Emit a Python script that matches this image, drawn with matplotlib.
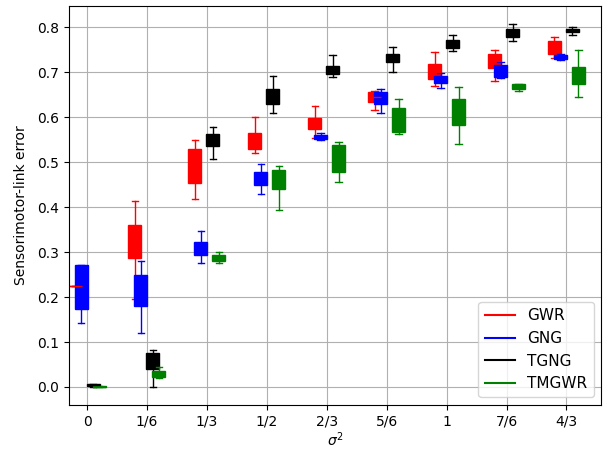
import numpy as np
import matplotlib
matplotlib.use('Agg')
import matplotlib.pyplot as plt
from matplotlib.lines import Line2D

labels = ['0', '1/6', '1/3', '1/2', '2/3', '5/6', '1', '7/6', '4/3']
names = ['GWR', 'GNG', 'TGNG', 'TMGWR']
colors = ['red', 'blue', 'black', 'green']

# (whislo, q1, med, q3, whishi) per sigma^2 value
gwr = [(0.224, 0.224, 0.224, 0.224, 0.224),
       (0.196, 0.286, 0.32, 0.361, 0.414),
       (0.417, 0.453, 0.49, 0.530, 0.549),
       (0.521, 0.528, 0.545, 0.564, 0.600),
       (0.553, 0.574, 0.585, 0.598, 0.625),
       (0.616, 0.633, 0.645, 0.656, 0.658),
       (0.670, 0.684, 0.70, 0.718, 0.744),
       (0.680, 0.710, 0.725, 0.741, 0.748),
       (0.732, 0.741, 0.755, 0.770, 0.778)]
gng = [(0.143, 0.174, 0.22, 0.271, 0.271),
       (0.119, 0.181, 0.21, 0.248, 0.280),
       (0.275, 0.293, 0.31, 0.323, 0.347),
       (0.430, 0.450, 0.463, 0.477, 0.495),
       (0.548, 0.552, 0.556, 0.561, 0.564),
       (0.609, 0.628, 0.64, 0.655, 0.663),
       (0.664, 0.676, 0.684, 0.692, 0.698),
       (0.686, 0.690, 0.703, 0.716, 0.723),
       (0.727, 0.728, 0.733, 0.738, 0.739)]
tgng = [(0.001, 0.002, 0.004, 0.006, 0.007),
        (0.0, 0.041, 0.06, 0.075, 0.0815),
        (0.507, 0.536, 0.55, 0.562, 0.578),
        (0.608, 0.630, 0.645, 0.663, 0.691),
        (0.690, 0.695, 0.705, 0.714, 0.738),
        (0.701, 0.722, 0.73, 0.740, 0.756),
        (0.747, 0.753, 0.762, 0.771, 0.783),
        (0.768, 0.777, 0.787, 0.796, 0.807),
        (0.782, 0.788, 0.792, 0.796, 0.801)]
tmgwr = [(0.0, 0.0, 0.001, 0.002, 0.002),
         (0.021, 0.0215, 0.028, 0.035, 0.044),
         (0.275, 0.280, 0.286, 0.293, 0.300),
         (0.393, 0.441, 0.46, 0.482, 0.492),
         (0.456, 0.478, 0.505, 0.537, 0.545),
         (0.562, 0.567, 0.595, 0.621, 0.641),
         (0.539, 0.583, 0.61, 0.641, 0.667),
         (0.658, 0.662, 0.667, 0.673, 0.673),
         (0.644, 0.673, 0.69, 0.712, 0.750)]

series = [gwr, gng, tgng, tmgwr]
offsets = [-0.2, -0.1, 0.1, 0.2]

fig = plt.figure(figsize=(6.11, 4.51), dpi=100)
ax = fig.add_axes([0.113, 0.102, 0.871, 0.885])
ax.grid(True, zorder=0)
ax.set_axisbelow(True)

x = np.arange(len(labels))
for data, off, c in zip(series, offsets, colors):
    stats = []
    for s in data:
        stats.append(dict(whislo=s[0], q1=s[1], med=s[2], q3=s[3], whishi=s[4], fliers=[]))
    ax.bxp(stats, positions=x + off, widths=0.217, patch_artist=True, showfliers=False,
           manage_ticks=False,
           boxprops=dict(facecolor=c, edgecolor=c),
           whiskerprops=dict(color=c), capprops=dict(color=c),
           medianprops=dict(color=c))

ax.set_xticks(x)
ax.set_xticklabels(labels)
ax.set_xlim(-0.3, 8.58)
ax.set_ylim(-0.04, 0.847)
ax.set_yticks(np.arange(0, 0.81, 0.1))
ax.set_xlabel(r'$\sigma^2$', labelpad=1)
ax.set_ylabel('Sensorimotor-link error', labelpad=7)

handles = [Line2D([], [], color=c) for c in colors]
ax.legend(handles, names, loc='lower right', fontsize=11)

fig.savefig('out.png')
